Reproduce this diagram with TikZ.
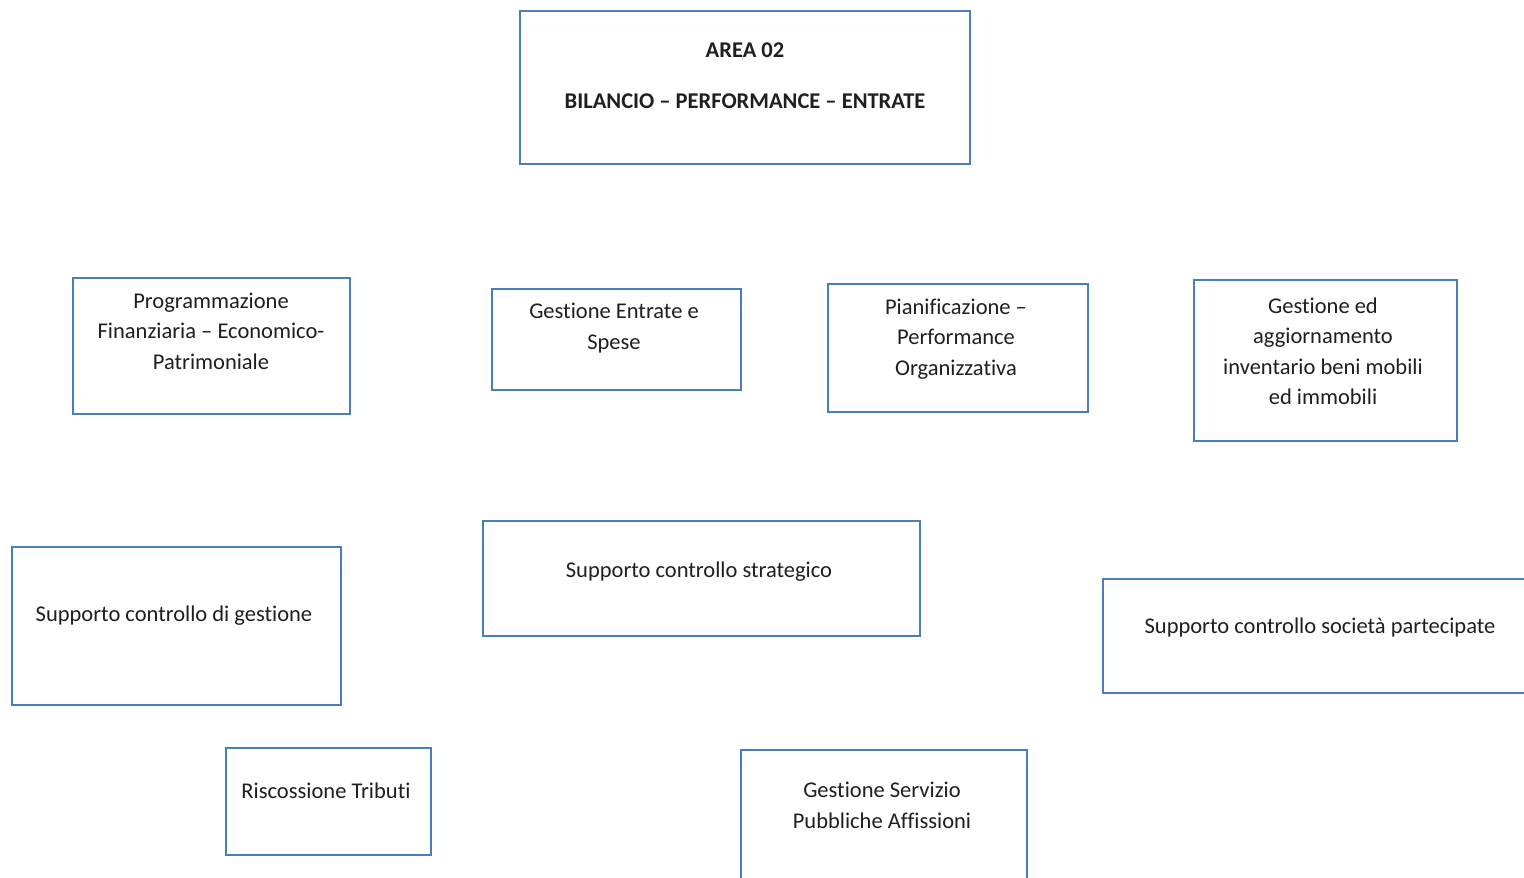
\documentclass[tikz,border=0pt]{standalone}
\usepackage{fontspec}
\setmainfont[Ligatures={NoCommon}]{Carlito}
\usepackage{tikz}
\usetikzlibrary{positioning}

\definecolor{boxblue}{RGB}{74,126,187}

\begin{document}
\begin{tikzpicture}[
  x=1pt, y=-1pt,
  font=\fontsize{22.5}{30.5}\selectfont,
  box/.style = {draw=boxblue, line width=1.5pt, anchor=north west,
                inner sep=0pt, fill=white},
  txt/.style = {align=center, inner sep=0pt, text=black!88},
]
\useasboundingbox[fill=white] (0,0) rectangle (1524,878);

% =========================== title =========================================
\node[box, minimum width=450pt, minimum height=153pt] (area) at (519,10) {};
\node[txt, font=\fontsize{22.5}{30.5}\selectfont\bfseries] (area-t) at (745,75.5)
  {AREA 02\\[20.5pt]BILANCIO -- PERFORMANCE -- ENTRATE};

% =========================== row 1 =========================================
\node[box, minimum width=277pt, minimum height=136pt] (prog) at (72,277) {};
\node[txt] (prog-t) at (211,331)
  {Programmazione\\Finanziaria -- Economico-\\Patrimoniale};

\node[box, minimum width=249pt, minimum height=101pt] (entr) at (491,288) {};
\node[txt] (entr-t) at (614,328) {Gestione Entrate e\\Spese};

\node[box, minimum width=260pt, minimum height=128pt] (pian) at (827,283) {};
\node[txt] (pian-t) at (956,339) {Pianificazione --\\Performance\\Organizzativa};

\node[box, minimum width=263pt, minimum height=161pt] (inv) at (1193,279) {};
\node[txt] (inv-t) at (1323,351.5)
  {Gestione ed\\aggiornamento\\inventario beni mobili\\ed immobili};

% =========================== row 2 =========================================
\node[box, minimum width=329pt, minimum height=158pt] (cdg) at (11,546) {};
\node[txt] (cdg-t) at (174,616) {Supporto controllo di gestione};

\node[box, minimum width=437pt, minimum height=115pt] (cstr) at (482,520) {};
\node[txt] (cstr-t) at (699,572) {Supporto controllo strategico};

\node[box, minimum width=440pt, minimum height=114pt] (csoc) at (1102,578) {};
\node[txt] (csoc-t) at (1320,627) {Supporto controllo società partecipate};

% =========================== row 3 =========================================
\node[box, minimum width=205pt, minimum height=107pt] (trib) at (225,747) {};
\node[txt] (trib-t) at (326,791) {Riscossione Tributi};

\node[box, minimum width=286pt, minimum height=145pt] (affis) at (740,749) {};
\node[txt] (affis-t) at (882,805.5) {Gestione Servizio\\Pubbliche Affissioni};

\end{tikzpicture}
\end{document}
